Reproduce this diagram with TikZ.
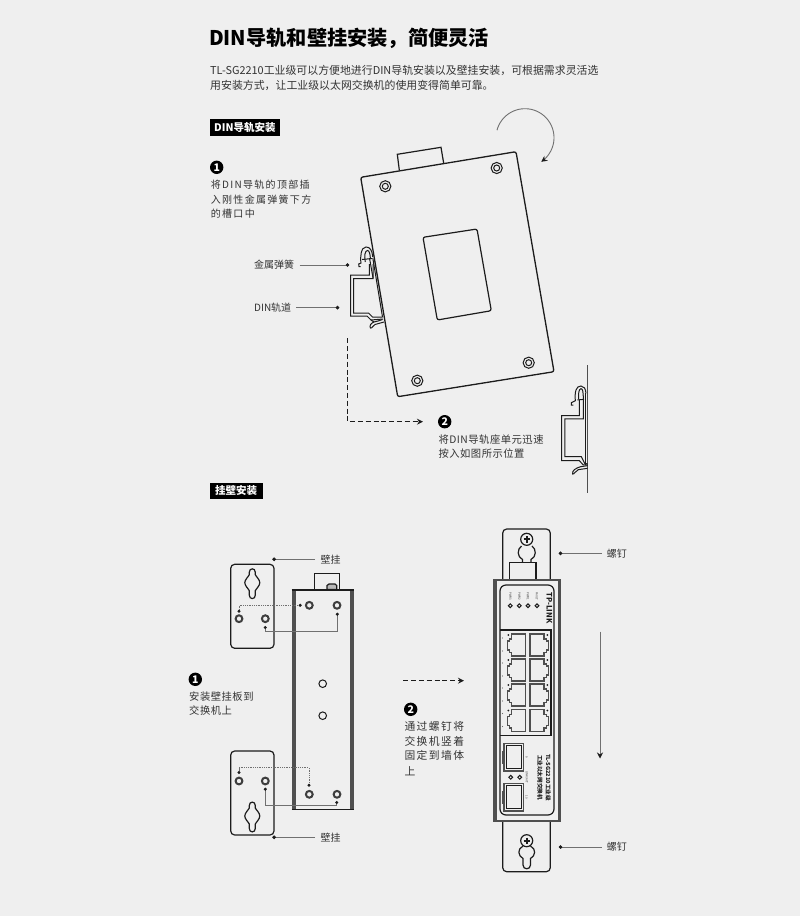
\documentclass[tikz,border=0pt]{standalone}
\usepackage{fontspec}
\setmainfont{Noto Sans CJK SC}
\newfontfamily\cjk{Noto Sans CJK SC}
\newfontfamily\cjkwide[LetterSpace=13]{Noto Sans CJK SC}
\newfontfamily\cjkmid[LetterSpace=5]{Noto Sans CJK SC}
\usetikzlibrary{arrows.meta}
\definecolor{bgc}{HTML}{EFEFEF}
\definecolor{ink}{HTML}{1C1C1C}
\definecolor{txt}{HTML}{333333}
\definecolor{bar}{HTML}{4F4F4F}
\definecolor{leader}{HTML}{707070}
\tikzset{
 lbl/.style={anchor=west,inner sep=0pt,text=txt,font=\cjk\fontsize{10}{12}\selectfont},
 lblwide/.style={lbl,font=\cjkwide\fontsize{10}{12}\selectfont},
 lblmid/.style={lbl,font=\cjkmid\fontsize{10.3}{12}\selectfont},
 para/.style={anchor=west,inner sep=0pt,text=txt,font=\cjk\fontsize{10.9}{13}\selectfont},
 tag/.style={anchor=west,fill=black,text=white,inner sep=0pt,minimum height=16.5pt,font=\bfseries\fontsize{10.5}{12}\selectfont},
 badge/.style={circle,fill=black,text=white,inner sep=0pt,minimum size=13.4pt,font=\bfseries\fontsize{10.5}{10}\selectfont},
 leadline/.style={draw=leader,line width=0.9pt,-{Circle[length=3.6pt,fill=ink,color=ink]}},
 lineart/.style={draw=ink,line width=1.2pt},
 thinart/.style={draw=ink,line width=1pt},
 dashflow/.style={draw=ink,line width=1.25pt,dash pattern=on 5pt off 2.8pt},
 dotflow/.style={draw=leader,line width=0.9pt,dash pattern=on 1pt off 0.8pt,{Circle[length=3pt,fill=ink,color=ink]}-{Circle[length=3pt,fill=ink,color=ink]}},
 solidflow/.style={draw=leader,line width=0.9pt,{Circle[length=3pt,fill=ink,color=ink]}-{Circle[length=3pt,fill=ink,color=ink]}},
 tiny/.style={inner sep=0pt,text=txt,font=\fontsize{2.8}{3}\selectfont,rotate=-90},
 screwa/.pic={\draw[thinart,fill=bgc] (0,0) circle[radius=5.6]; \draw[thinart] (0,0) circle[radius=3];},
 holea/.pic={\draw[draw=ink!85,line width=2pt,fill=bgc] (0,0) circle[radius=3.4];},
 keyholea/.pic={\draw[lineart] (-3,-8) -- (-3,-10.5) .. controls (-3,-15) and (3,-15) .. (3,-10.5) -- (3,-8)
   .. controls (4,-6) and (7.5,-3) .. (7.5,0) .. controls (7.5,3) and (4,6) .. (3,8) -- (3,12.5)
   .. controls (3,17) and (-3,17) .. (-3,12.5) -- (-3,8) .. controls (-4,6) and (-7.5,3) .. (-7.5,0)
   .. controls (-7.5,-3) and (-4,-6) .. (-3,-8) -- cycle;},
 phillips/.pic={\draw[lineart,fill=bgc] (0,0) circle[radius=6]; \draw[draw=ink,line width=2pt] (-3.2,0) -- (3.2,0) (0,-3.2) -- (0,3.2);},
 rjleft/.pic={\draw[draw=bar,line width=1.3pt] (18.3,0) -- (4.3,0) -- (4.3,5) -- (2,5) -- (2,7) -- (0,7) -- (0,16) -- (2,16) -- (2,18.5) -- (4.3,18.5) -- (4.3,22) -- (18.3,22) -- cycle;
   \fill[ink] (1,1) circle[radius=1];},
 rjright/.pic={\draw[draw=bar,line width=1.3pt] (0,0) -- (14,0) -- (14,5) -- (16.3,5) -- (16.3,7) -- (18.3,7) -- (18.3,16) -- (16.3,16) -- (16.3,18.5) -- (14,18.5) -- (14,22) -- (0,22) -- cycle;
   \fill[ink] (17.3,1) circle[radius=1];},
 sfp/.pic={\draw[draw=bar,line width=1.6pt] (0,0) rectangle (19.3,27.7); \draw[draw=ink,line width=0.7pt] (2,2.3) rectangle (17.6,25);
   \draw[draw=bar,line width=1.1pt] (0,8.5) -- (-1.8,8.5) -- (-1.8,20) -- (0,20);},
}
\begin{document}
\begin{tikzpicture}[x=1pt,y=-1pt]
\useasboundingbox (0,0) rectangle (800,916);
\fill[bgc] (0,0) rectangle (800,916);

% ---------- header
\node[anchor=west,inner sep=0pt,text=black,font=\bfseries\fontsize{20.2}{24}\selectfont] (title) at (209,38) {DIN导轨和壁挂安装，简便灵活};
\node[para] (intro1) at (210,70.7) {TL-SG2210工业级可以方便地进行DIN导轨安装以及壁挂安装，可根据需求灵活选};
\node[para] (intro2) at (210,85) {用安装方式，让工业级以太网交换机的使用变得简单可靠。};
\node[tag,minimum width=70.7pt] (tagdin) at (209.3,127.4) {DIN导轨安装};
\node[tag,minimum width=52.6pt] (tagwall) at (209.7,490.8) {挂壁安装};

% ---------- DIN: step 1 text
\node[badge] (b1) at (216.7,167.3) {1};
\node[lblwide] (s1a) at (210.7,185) {将DIN导轨的顶部插};
\node[lblwide] (s1b) at (210.7,199.3) {入刚性金属弹簧下方};
\node[lblwide] (s1c) at (210.7,213.3) {的槽口中};

% ---------- DIN: rotated device
\draw[lineart,fill=bgc] (399.3,170) -- (397.3,154.3) -- (441,147.3) -- (443.7,163.3);
\draw[lineart,rounded corners=2pt,line width=1.3pt] (360.7,177.3) -- (516,151.7) -- (554,371.7) -- (397.7,396.7) -- cycle;
\draw[lineart,rounded corners=2pt] (423,237.3) -- (477,229) -- (491.3,310.7) -- (437.3,320) -- cycle;
\pic at (385.3,186.3) {screwa};
\pic at (496.7,168) {screwa};
\pic at (417.3,380.7) {screwa};
\pic at (528.7,362.7) {screwa};
\draw[draw=leader,line width=0.9pt,-{Stealth[length=6pt,width=6pt,fill=ink,color=ink]},domain=195:416,samples=60,smooth] plot ({525+29*cos(\x)},{137.7+29*sin(\x)});

% ---------- DIN: rail on the tilted device
\begin{scope}[thinart]
\draw (369.3,264) -- (369.3,275) -- (350.7,275) -- (350.7,316) -- (367,316) -- (371,320) -- (383,319);
\draw (373,264) -- (373,278.5) -- (353.5,278.5) -- (353.5,313) -- (368.5,313) -- (372.5,317) -- (382.5,317);
\draw (360.5,266.5) -- (359,266.5) -- (358.7,264) -- (361,263) .. controls (360,257) and (361,247) .. (366,247)
      .. controls (370,247) and (372,250) .. (372.8,257);
\draw (365.3,262) .. controls (364,256) and (365,250.5) .. (367.5,250.5) .. controls (369.5,250.5) and (370,254) .. (370.5,259);
\draw (362,259.5) -- (372,258.5);
\draw (372.8,258) -- (382.5,317);
\draw (369.5,258) -- (373,278);
\draw[fill=bgc] (382.5,319.5) -- (378,321) -- (374,322) .. controls (371,323) and (369,326) .. (370.5,328)
      .. controls (372,329) and (373,325) .. (375,324.5) -- (384,322);
\draw (371,320) -- (374,322);
\end{scope}

% ---------- DIN: labels with leaders
\node[lbl] (spring) at (254,265) {金属弹簧};
\coordinate (springend) at (349.3,265);
\draw[leadline] (spring.east) ++(5.3,0) coordinate (springstart) -- (springend);
\node[lbl] (din) at (254,307.7) {DIN轨道};
\coordinate (dinend) at (339.3,307.7);
\draw[leadline] (din.east) ++(5,0) coordinate (dinstart) -- (dinend);

% ---------- DIN: dashed path to step 2
\coordinate (dashstart) at (347.7,338.3);
\coordinate (dashturn) at (347.7,421.7);
\node[badge] (b2) at (444.7,421.7) {2};
\coordinate (dashend) at (423,421.7);
\draw[dashflow,-{Stealth[length=6pt,width=6pt]}] (dashstart) -- (dashturn) -- (dashend);
\node[lblmid] (s2a) at (438.3,439.3) {将DIN导轨座单元迅速};
\node[lblmid] (s2b) at (438.3,454) {按入如图所示位置};

% ---------- DIN: rail on wall
\draw[draw=bar,line width=1.2pt] (587.7,365) -- (587.7,492.7);
\begin{scope}[thinart,shift={(420,350)},x=0.3333pt,y=-0.3333pt]
\draw (478,148) -- (478,197) -- (425,197) -- (425,332) -- (478,332) -- (490,345) -- (503,345);
\draw (490,148) -- (490,207) -- (435,207) -- (435,320) -- (484,320) -- (494,340) -- (503,342);
\draw (498,130) -- (498,345);
\draw (472,150) -- (492,148);
\draw (460,165) -- (454,165) -- (454,158) -- (466,152) .. controls (464,125) and (468,108) .. (483,108) .. controls (492,108) and (497,116) .. (498,130);
\draw (476,148) .. controls (475,130) and (476,118) .. (483,116) .. controls (488,116) and (490,125) .. (490,148);
\draw (503,347) -- (482,350) .. controls (468,354) and (455,362) .. (458,372) .. controls (462,375) and (466,362) .. (475,359) -- (503,355);
\end{scope}

% ---------- wall: left plates and back of switch
\draw[lineart,fill=bgc] (314.3,590) -- (314.3,573.3) -- (339.3,573.3) -- (339.3,590);
\draw[lineart,fill=bar!40] (327,589.5) -- (327,585.5) -- (329,584) -- (335,584) -- (336.7,585.5) -- (336.7,589.5) -- cycle;
\fill[bar] (291.7,590) rectangle (296,809.3);
\fill[bar] (349.5,590) rectangle (354,809.3);
\draw[draw=ink,line width=1.3pt] (291.7,590) -- (354,590) (291.7,809.3) -- (354,809.3);
\pic at (309.3,605.3) {holea};
\pic at (337,605.3) {holea};
\pic at (309.3,794.3) {holea};
\pic at (337,794.3) {holea};
\draw[thinart,fill=bgc] (322.7,683.7) circle[radius=3.8];
\draw[thinart,fill=bgc] (322.7,715.7) circle[radius=3.8];

\draw[lineart,rounded corners=4pt] (230.7,564.3) rectangle (274,648.3);
\pic at (252.3,582.7) {keyholea};
\pic at (239,618.7) {holea};
\pic at (265.3,618.7) {holea};
\draw[lineart,rounded corners=4pt] (230.7,751) rectangle (274,835);
\pic at (252.3,816) {keyholea};
\pic at (239,781) {holea};
\pic at (265.3,781) {holea};

\coordinate (ta) at (239,612.7); \coordinate (tb) at (301.7,605.3);
\draw[dotflow] (ta) |- (tb);
\coordinate (tc) at (265.3,626); \coordinate (td) at (337.3,612.7);
\draw[solidflow] (tc) -- (265.3,631.7) -- (337.3,631.7) -- (td);
\coordinate (ba) at (239,774); \coordinate (bb) at (309,786.7);
\draw[dotflow] (ba) -- (239,767.7) -- (309,767.7) -- (bb);
\coordinate (bc) at (265.3,787.7); \coordinate (bd) at (336.7,801);
\draw[solidflow] (bc) -- (265.3,805) -- (336.7,805) -- (bd);

\node[lbl] (gua1) at (320.5,559.3) {壁挂};
\coordinate (gua1end) at (272.3,559.3);
\draw[leadline] (315,559.3) coordinate (gua1start) -- (gua1end);
\node[lbl] (gua2) at (320.5,837.3) {壁挂};
\coordinate (gua2end) at (272.3,837.3);
\draw[leadline] (315,837.3) coordinate (gua2start) -- (gua2end);

\node[badge] (b3) at (195.3,679.3) {1};
\node[lblmid] (s3a) at (189,696.7) {安装壁挂板到};
\node[lblmid] (s3b) at (189,711) {交换机上};

% ---------- wall: middle
\coordinate (midstart) at (403.3,680.7);
\coordinate (midend) at (464,680.7);
\draw[dashflow,-{Stealth[length=6pt,width=6pt]}] (midstart) -- (midend);
\node[badge] (b4) at (410.7,709.3) {2};
\node[lblwide,font=\cjkwide\fontsize{10.8}{12}\selectfont] (s4a) at (404.3,726) {通过螺钉将};
\node[lblwide,font=\cjkwide\fontsize{10.8}{12}\selectfont] (s4b) at (404.3,741) {交换机竖着};
\node[lblwide,font=\cjkwide\fontsize{10.8}{12}\selectfont] (s4c) at (404.3,755.7) {固定到墙体};
\node[lblwide,font=\cjkwide\fontsize{10.8}{12}\selectfont] (s4d) at (404.3,771.7) {上};

% ---------- wall: front of switch
\draw[lineart,rounded corners=4pt] (502.7,580) -- (502.7,529) -- (550.3,529) -- (550.3,580);
\draw[lineart,rounded corners=4pt] (502.7,821) -- (502.7,871.7) -- (550.3,871.7) -- (550.3,821);
\draw[lineart] (509.3,580) -- (509.3,562.3) -- (536,562.3) -- (536,580);
% keyholes
\draw[lineart] (522.5,562.3) -- (522.5,559.5) .. controls (517,557) and (517,549) .. (521.5,546)
   (531,562.3) -- (531,559.5) .. controls (536.5,557) and (536.5,549) .. (532,546);
\draw[lineart] (523,846) .. controls (517,849) and (518,856) .. (523,858.5) -- (523,865) .. controls (523,870) and (530.5,870) .. (530.5,865) -- (530.5,858.5)
   .. controls (535.5,856) and (536.5,849) .. (530.5,846);
\pic at (526.7,539.3) {phillips};
\pic at (526.7,840.7) {phillips};
% body
\fill[bar] (493.3,578.8) rectangle (561,581.3);
\fill[bar] (493.3,580) rectangle (496.8,821);
\fill[bar] (557.5,580) rectangle (561,821);
\fill[bar] (493.3,819.5) rectangle (561,821.5);
\draw[lineart,rounded corners=6pt] (500,585) rectangle (554,815);
\draw[lineart] (500,630) -- (551,630) -- (551,735.7) -- (500,735.7);
% LEDs
\foreach \lx/\ln in {510.3/PWR3,519.3/PWR2,528/PWR1,537/FAULT}{
  \draw[thinart] (\lx,605.7) circle[radius=1.9];
  \node[tiny] (led\ln) at (\lx,596.5) {\ln};
}
\node[inner sep=0pt,rotate=-90,text=ink,font=\bfseries\fontsize{7.5}{8}\selectfont] (brand) at (549.3,608) {TP-LINK};
% RJ45
\foreach \ry in {634,659,684,709.5}{
  \pic at (507.3,\ry) {rjleft};
  \pic at (530,\ry) {rjright};
  \fill[leader] (502.5,\ry+4) circle[radius=0.7] (502.5,\ry+17) circle[radius=0.7];
}
% SFP
\pic at (504,743.3) {sfp};
\pic at (504,783.3) {sfp};
\draw[thinart] (510.7,777.3) circle[radius=1.9];
\draw[thinart] (519.7,777.3) circle[radius=1.9];
\node[tiny] (sfpa) at (526.7,757.5) {9};
\node[tiny] (sfpb) at (526.7,777.3) {LINK/ACT};
\node[tiny] (sfpc) at (526.7,797) {10};
\node[inner sep=0pt,rotate=-90,text=ink,font=\bfseries\fontsize{5.6}{6}\selectfont] (model) at (548.3,777.5) {TL-SG2210工业级};
\node[inner sep=0pt,rotate=-90,text=ink,font=\bfseries\fontsize{5.6}{6}\selectfont] (kind) at (540,777.5) {工业以太网交换机};

% ---------- wall: right
\coordinate (downstart) at (600,631.7);
\coordinate (downend) at (600,758.5);
\draw[draw=leader,line width=0.9pt,-{Stealth[length=6pt,width=6pt,fill=ink,color=ink]}] (downstart) -- (downend);
\node[lbl] (screw1) at (606.7,553.3) {螺钉};
\coordinate (screw1end) at (558.7,553.3);
\draw[leadline] (601.7,553.3) coordinate (screw1start) -- (screw1end);
\node[lbl] (screw2) at (606.7,847) {螺钉};
\coordinate (screw2end) at (558.7,847);
\draw[leadline] (601.7,847) coordinate (screw2start) -- (screw2end);
\end{tikzpicture}
\end{document}
